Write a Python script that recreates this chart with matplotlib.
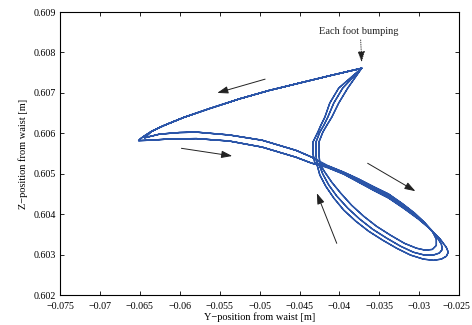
import numpy as np
import matplotlib
matplotlib.use("Agg")
import matplotlib.pyplot as plt
import matplotlib.transforms as mtransforms

plt.rcParams['font.family'] = ['Liberation Serif', 'DejaVu Serif']

# upper edge, from the foot bump peak to the left tip
top_y = [-0.03722, -0.04133, -0.04507, -0.04882, -0.05256, -0.05630, -0.05941, -0.06191, -0.06353, -0.06440, -0.06490, -0.06515]
top_z = [0.60761, 0.60742, 0.60724, 0.60706, 0.60685, 0.60661, 0.60640, 0.60620, 0.60605, 0.60594, 0.60587, 0.60582]

# lower return line (from the tip back to the crossing)
low_y = [-0.06515, -0.06378, -0.06128, -0.05792, -0.05380, -0.04969, -0.04545, -0.04345]
low_z = [0.60582, 0.60583, 0.60586, 0.60587, 0.60581, 0.60566, 0.60541, 0.60526]

# second return line, turning just before the tip
mid_y = [-0.06440, -0.06253, -0.06004, -0.05792, -0.05380, -0.04969, -0.04545, -0.04345]
mid_z = [0.60589, 0.60598, 0.60602, 0.60603, 0.60596, 0.60583, 0.60558, 0.60541]

# loops on the right (outer, middle, inner)
outer_y = [-0.04133, -0.03946, -0.03759, -0.03572, -0.03385, -0.03198, -0.03011, -0.02861, -0.02737, -0.02662, -0.02637,
           -0.02662, -0.02724, -0.02824, -0.02949, -0.03111, -0.03285, -0.03460, -0.03635, -0.03797, -0.03946, -0.04071,
           -0.04171, -0.04246, -0.04283]
outer_z = [0.60514, 0.60499, 0.60479, 0.60459, 0.60440, 0.60415, 0.60388, 0.60363, 0.60338, 0.60318, 0.60306,
           0.60296, 0.60289, 0.60286, 0.60289, 0.60299, 0.60316, 0.60336, 0.60358, 0.60383, 0.60410, 0.60440,
           0.60469, 0.60497, 0.60524]
middle_y = [-0.04133, -0.03946, -0.03759, -0.03572, -0.03385, -0.03198, -0.03036, -0.02899, -0.02787, -0.02724, -0.02712,
            -0.02749, -0.02824, -0.02936, -0.03074, -0.03236, -0.03410, -0.03585, -0.03747, -0.03896, -0.04034, -0.04133,
            -0.04208, -0.04258]
middle_z = [0.60516, 0.60502, 0.60483, 0.60464, 0.60445, 0.60420, 0.60395, 0.60370, 0.60346, 0.60326, 0.60313,
            0.60304, 0.60299, 0.60299, 0.60306, 0.60321, 0.60341, 0.60363, 0.60388, 0.60415, 0.60445, 0.60472,
            0.60499, 0.60524]
inner_y = [-0.04133, -0.03946, -0.03759, -0.03572, -0.03385, -0.03211, -0.03061, -0.02936, -0.02837, -0.02787, -0.02787,
           -0.02837, -0.02924, -0.03036, -0.03186, -0.03360, -0.03535, -0.03697, -0.03847, -0.03984, -0.04096, -0.04183,
           -0.04246]
inner_z = [0.60519, 0.60504, 0.60487, 0.60468, 0.60450, 0.60426, 0.60403, 0.60380, 0.60358, 0.60338, 0.60323,
           0.60313, 0.60311, 0.60316, 0.60328, 0.60348, 0.60370, 0.60395, 0.60422, 0.60452, 0.60479, 0.60504,
           0.60524]

# rising paths from the crossing up to the peak
riseA_y = [-0.04308, -0.04333, -0.04333, -0.04271, -0.04233, -0.04183, -0.04121, -0.04009, -0.03722]
riseB_y = [-0.04246, -0.04258, -0.04258, -0.04208, -0.04158, -0.04096, -0.04009, -0.03896, -0.03722]
riseC_y = [-0.04283, -0.04295, -0.04295, -0.04246, -0.04196, -0.04146, -0.04071, -0.03959, -0.03722]
rise_z = [0.60526, 0.60551, 0.60578, 0.60603, 0.60620, 0.60640, 0.60675, 0.60712, 0.60761]

xticks = [-0.075, -0.07, -0.065, -0.06, -0.055, -0.05, -0.045, -0.04, -0.035, -0.03, -0.025]
xtick_labels = ['−0.075', '−0.07', '−0.065', '−0.06', '−0.055', '−0.05', '−0.045', '−0.04', '−0.035', '−0.03', '−0.025']
yticks = [0.602, 0.603, 0.604, 0.605, 0.606, 0.607, 0.608, 0.609]
ytick_labels = ['0.602', '0.603', '0.604', '0.605', '0.606', '0.607', '0.608', '0.609']

# build the walking cycles one after another
loops = {'outer': (outer_y, outer_z), 'middle': (middle_y, middle_z), 'inner': (inner_y, inner_z)}
rises = {'A': riseA_y, 'B': riseB_y, 'C': riseC_y}
cycles = [('low', 'outer', 'A'), ('mid', 'middle', 'B'), ('low', 'inner', 'C'),
          ('mid', 'outer', 'C'), ('low', 'middle', 'A'), ('mid', 'inner', 'B')]

path_y, path_z = [], []
for ret, loop, rise in cycles:
    if ret == 'low':
        path_y += top_y + low_y
        path_z += top_z + low_z
    else:
        path_y += top_y[:9] + mid_y
        path_z += top_z[:9] + mid_z
    path_y += loops[loop][0] + rises[rise]
    path_z += loops[loop][1] + rise_z

fig = plt.figure(figsize=(4.72, 3.25), dpi=100)
ax = fig.add_axes([0.127, 0.092, 0.846, 0.871])
ax.plot(path_y, path_z, color='#2b55a8', lw=1.0)

ax.set_xlim(-0.075, -0.025)
ax.set_ylim(0.602, 0.609)
ax.set_xticks(xticks)
ax.set_xticklabels(xtick_labels)
ax.set_yticks(yticks)
ax.set_yticklabels(ytick_labels)
ax.tick_params(direction='in', top=True, right=True, length=3, width=0.6, labelsize=7.2)
ax.tick_params(axis='x', pad=5)
ax.tick_params(axis='y', pad=3)
for s in ax.spines.values():
    s.set_linewidth(0.8)

# nudge the last x label a little so it stays inside the figure
last = ax.get_xticklabels()[-1]
last.set_transform(last.get_transform() + mtransforms.ScaledTranslation(-2.5 / 100, 0, fig.dpi_scale_trans))

ax.set_xlabel('Y−position from waist [m]', fontsize=7.5, labelpad=1)
ax.set_ylabel('Z−position from waist [m]', fontsize=7.5, labelpad=4)

# direction arrows
arr = dict(arrowstyle='-|>,head_length=0.65,head_width=0.22', color='#222222', lw=0.7, shrinkA=0, shrinkB=0)
ax.annotate('', xy=(-0.05530, 0.60700), xytext=(-0.04931, 0.60734), arrowprops=arr)
ax.annotate('', xy=(-0.05343, 0.60544), xytext=(-0.05979, 0.60563), arrowprops=arr)
ax.annotate('', xy=(-0.03049, 0.60457), xytext=(-0.03647, 0.60526), arrowprops=arr)
ax.annotate('', xy=(-0.04283, 0.60452), xytext=(-0.04034, 0.60328), arrowprops=arr)

# foot bump label
ax.text(-0.0376, 0.60853, 'Each foot bumping', fontsize=7.5, ha='center', va='center', color='#222222')
ax.annotate('', xy=(-0.03722, 0.60776), xytext=(-0.03734, 0.60831),
            arrowprops=dict(arrowstyle='-|>,head_length=0.65,head_width=0.22', color='#222222',
                            lw=0.6, linestyle=':', shrinkA=0, shrinkB=0))

plt.savefig('out.png', dpi=100)
